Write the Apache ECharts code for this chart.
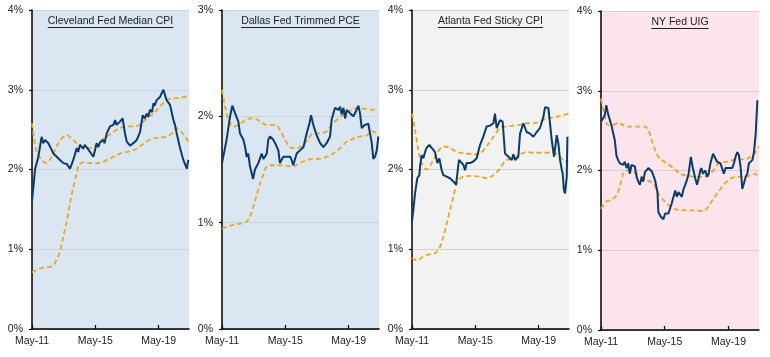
<!DOCTYPE html>
<html><head><meta charset="utf-8">
<script src="https://cdn.jsdelivr.net/npm/echarts@6/dist/echarts.min.js"></script>
<style>html,body{margin:0;padding:0;background:#fff}#c{width:770px;height:357px}</style>
</head><body><div id="c"></div>
<script>
// x = months since May-2011, y = percent
const xTickLabels = ['May-11', 'May-15', 'May-19'];
const panelTitles = ['Cleveland Fed Median CPI', 'Dallas Fed Trimmed PCE', 'Atlanta Fed Sticky CPI', 'NY Fed UIG'];
const yMaxes = [4, 3, 4, 4];

const clevMedian = [[0,1.60],[2.3,2.00],[4.8,2.16],[7.3,2.41],[8.5,2.33],[9.9,2.37],[12.4,2.33],[13.6,2.29],[16.2,2.20],[17.5,2.22],[18.7,2.16],[21.2,2.12],[22.5,2.14],[23.8,2.08],[26.3,2.07],[28.8,2.01],[31.3,2.12],[33.9,2.27],[35,2.22],[36.4,2.31],[38.9,2.26],[40,2.31],[41.4,2.29],[44,2.22],[46.5,2.16],[49,2.33],[50.2,2.28],[51.6,2.34],[54,2.37],[55,2.33],[56.6,2.45],[59.1,2.54],[61.7,2.56],[63,2.62],[64.2,2.56],[66.7,2.60],[68.7,2.64],[70.5,2.45],[71.8,2.35],[74.3,2.30],[76.8,2.33],[79.4,2.37],[81.9,2.47],[83.9,2.68],[85.5,2.64],[86.9,2.70],[88,2.66],[89.5,2.75],[91,2.72],[92,2.83],[93,2.80],[94.5,2.87],[97,2.91],[99.6,3.00],[102,2.87],[104.6,2.81],[107.2,2.62],[108.5,2.55],[109.7,2.45],[112.2,2.27],[114.7,2.12],[117.3,2.01],[118.5,2.12]];
const clevUpper = [[0,2.58],[3.5,2.22],[7.3,2.12],[11.1,2.08],[14.9,2.16],[18.7,2.29],[22.5,2.39],[26.3,2.43],[30.1,2.39],[33.9,2.33],[37.7,2.29],[41.4,2.27],[45.2,2.27],[49,2.31],[52.8,2.37],[56.6,2.41],[61.7,2.47],[66.7,2.52],[71.8,2.54],[76.8,2.54],[81.9,2.56],[86.9,2.64],[92,2.70],[97,2.79],[102,2.87],[107,2.89],[112,2.90],[118.5,2.92]];
const clevLower = [[0,0.71],[3.5,0.74],[8.6,0.77],[13.6,0.78],[16.2,0.80],[18.7,0.87],[21.2,0.97],[23.8,1.16],[26.3,1.35],[28.8,1.58],[31.3,1.78],[33.9,1.95],[35.6,2.06],[38.9,2.09],[44,2.08],[51.6,2.08],[56.6,2.12],[61.7,2.16],[66.7,2.20],[71.8,2.22],[76.8,2.24],[81.9,2.29],[86.9,2.35],[92,2.39],[97,2.40],[102,2.41],[105.9,2.45],[109.7,2.52],[113.5,2.47],[118.5,2.35]];

const dallasTrim = [[0,1.56],[3.5,1.78],[6.1,2.00],[7.8,2.10],[9.9,2.03],[12.4,1.95],[13.6,1.84],[16.2,1.78],[17.4,1.72],[18.7,1.62],[19.9,1.65],[21.2,1.53],[23.5,1.41],[25,1.50],[27.5,1.56],[30.1,1.65],[31.3,1.60],[32.6,1.62],[33.9,1.65],[35.1,1.78],[36.4,1.81],[38.9,1.78],[40.2,1.75],[42.7,1.68],[43.9,1.56],[46.5,1.62],[49,1.62],[51.6,1.62],[52.8,1.59],[54,1.54],[56.6,1.65],[59.1,1.68],[61.7,1.71],[64.2,1.84],[66.2,1.93],[67.5,2.01],[69.2,1.92],[71.8,1.82],[74.3,1.75],[76.8,1.71],[79.4,1.75],[81.9,1.81],[83.1,1.97],[85.7,2.08],[88.2,2.06],[89.5,2.09],[90.7,2.02],[92,2.08],[93.3,1.98],[94.5,2.06],[97,2.03],[99.6,2.00],[102,2.06],[103.4,2.10],[104.6,2.03],[105.9,1.89],[108.4,1.92],[110.9,1.93],[113.5,1.75],[114.7,1.60],[116,1.62],[117.3,1.68],[118.5,1.81]];
const dallasUpper = [[0,2.25],[2.3,2.09],[4.8,1.97],[8.6,1.90],[12.4,1.92],[16.2,1.95],[21.2,1.98],[25,1.98],[28.8,1.95],[33.9,1.92],[40.2,1.92],[44,1.87],[47.8,1.78],[51.6,1.71],[56.6,1.70],[61.7,1.73],[65.5,1.79],[69.2,1.84],[74.3,1.84],[79.4,1.86],[83.1,1.92],[88.2,1.98],[93.3,2.03],[98.3,2.06],[103.4,2.08],[108.4,2.07],[113.5,2.06],[117.3,2.08]];
const dallasLower = [[0,0.94],[3.5,0.96],[8.6,0.98],[13.6,0.99],[18.7,1.01],[21.2,1.06],[23.8,1.15],[26.3,1.26],[28.8,1.37],[31.3,1.45],[33.9,1.53],[37.7,1.54],[44,1.54],[51.6,1.53],[54,1.53],[59.1,1.56],[64.2,1.59],[69.2,1.60],[74.3,1.60],[79.4,1.62],[84.4,1.65],[89.5,1.70],[94.5,1.76],[99.6,1.79],[104.6,1.81],[109.7,1.82],[113.5,1.86],[116,1.85],[118.5,1.80]];

const atlSticky = [[0,1.35],[1,1.49],[2.3,1.70],[4,1.89],[5.6,1.93],[6.1,2.04],[7.3,2.18],[8.6,2.14],[9.9,2.22],[11.1,2.27],[13.1,2.31],[14.9,2.27],[17.4,2.22],[19.2,2.08],[20.7,2.14],[22.5,1.99],[23.8,1.93],[26.3,1.91],[28.8,1.89],[31.3,1.85],[33.4,1.81],[34.4,1.95],[35.6,2.12],[36.9,2.14],[38.9,2.06],[40.2,1.99],[41.4,2.08],[44,2.08],[46.5,2.10],[49,2.14],[51.6,2.31],[54,2.41],[56.6,2.54],[59.1,2.55],[61.7,2.58],[62.9,2.70],[64.2,2.52],[66.7,2.62],[68.7,2.60],[70.5,2.20],[73.1,2.16],[75.6,2.12],[76.8,2.19],[78.1,2.12],[80.6,2.16],[81.9,2.45],[84.4,2.58],[86.9,2.47],[89.5,2.45],[92,2.41],[94.5,2.47],[97,2.52],[99.6,2.66],[100.8,2.78],[103.4,2.77],[104.6,2.77],[105.9,2.37],[107.7,2.16],[109.7,2.43],[110.9,2.33],[112.2,2.12],[113.5,2.00],[114.2,1.95],[115.2,1.74],[116,1.70],[117.3,1.91],[117.8,2.41]];
const atlUpper = [[0,2.70],[2.3,2.50],[4.8,2.24],[7.3,2.08],[11.1,2.00],[14.9,2.08],[18.7,2.20],[23.8,2.29],[28.8,2.27],[33.9,2.22],[41.4,2.20],[46.5,2.19],[51.6,2.20],[56.6,2.29],[61.7,2.41],[66.7,2.52],[71.8,2.54],[76.8,2.55],[81.9,2.56],[86.9,2.58],[92,2.58],[97,2.60],[102,2.64],[107.2,2.65],[112.2,2.67],[118.5,2.70]];
const atlLower = [[0,0.89],[3.5,0.86],[8.6,0.91],[13.6,0.94],[17.4,0.95],[20.7,1.01],[23.8,1.16],[26.3,1.32],[28.8,1.49],[31.3,1.66],[35.1,1.87],[38.9,1.91],[44,1.92],[51.6,1.91],[56.6,1.89],[61.7,1.93],[65.5,1.99],[66.7,2.01],[69.2,2.08],[71.8,2.12],[76.8,2.14],[81.9,2.19],[86.9,2.22],[92,2.21],[97,2.21],[102,2.21],[107.2,2.21],[110.9,2.18],[114.7,2.12],[118.5,2.09]];

const nyUig = [[0,2.61],[1.5,2.63],[2.8,2.69],[4,2.82],[5.3,2.71],[6.6,2.69],[7.8,2.57],[9.1,2.55],[10.4,2.38],[11.6,2.19],[12.9,2.13],[14.2,2.09],[15.4,2.11],[16.7,2.07],[17.9,2.11],[19.2,2.03],[20.5,2.09],[21.7,1.96],[23,2.07],[24.3,2.05],[25.5,2.05],[26.8,1.92],[28.1,1.86],[29.3,1.82],[30.6,1.92],[31.8,1.86],[33.1,1.98],[34.4,2.00],[35.6,2.03],[36.9,2.03],[38.2,1.99],[39.4,1.94],[40.7,1.88],[42.5,1.73],[43.2,1.48],[45,1.42],[47,1.39],[48.3,1.46],[49.5,1.44],[50.8,1.46],[52.1,1.44],[53.3,1.59],[54.6,1.67],[55.9,1.75],[57.1,1.67],[58.4,1.73],[59.6,1.71],[60.9,1.67],[62.2,1.77],[63.4,1.82],[64.7,1.88],[66,1.96],[67.7,2.17],[69.2,2.03],[71,1.90],[72.3,1.82],[73.5,1.90],[74.8,2.00],[75.6,2.03],[76.8,1.96],[78.6,2.00],[79.9,1.92],[81.1,1.96],[82.4,2.09],[84.4,2.21],[85.7,2.23],[87.4,2.11],[88.7,2.13],[90,2.09],[91.2,2.07],[92.5,1.96],[93.8,2.03],[95,2.05],[96.3,2.03],[97.5,2.05],[98.8,2.03],[100.1,2.09],[101.3,2.17],[102.6,2.23],[103.9,2.19],[105.1,2.05],[106.4,1.77],[107.7,1.84],[108.9,1.92],[110.2,1.96],[111.4,2.09],[112.7,2.07],[114,2.13],[115.2,2.23],[116.5,2.46],[117.8,2.88]];
const nyUpper = [[0,2.90],[2.8,2.69],[5.3,2.57],[9.1,2.57],[12.9,2.60],[16.7,2.57],[20.5,2.55],[26.8,2.55],[33.1,2.55],[35.6,2.51],[38.2,2.38],[41.9,2.21],[44.5,2.15],[49.5,2.09],[54.6,2.03],[59.6,1.96],[63.4,1.94],[67.2,1.93],[72.3,1.92],[77.3,1.92],[82.4,1.96],[86.2,2.04],[88.7,2.09],[95,2.11],[102.6,2.14],[107.7,2.14],[112.7,2.17],[116.5,2.23],[118.5,2.30]];
const nyLower = [[0,1.52],[4,1.61],[7.8,1.63],[11.6,1.69],[14.2,1.80],[16.7,1.96],[19.2,2.00],[21.7,2.00],[26.8,1.96],[30.6,1.92],[34.4,1.88],[39.4,1.84],[43.2,1.71],[47,1.63],[52.1,1.55],[57.1,1.51],[64.7,1.50],[72.3,1.50],[77.3,1.49],[82.4,1.59],[87.4,1.71],[92.5,1.82],[97.5,1.90],[102.6,1.92],[107.7,1.92],[112.7,1.94],[116.5,1.96],[118.5,1.90]];

const mainSeries = [clevMedian, dallasTrim, atlSticky, nyUig];
const upperSeries = [clevUpper, dallasUpper, atlUpper, nyUpper];
const lowerSeries = [clevLower, dallasLower, atlLower, nyLower];

// layout & styles
const grids = [
  {left: 32, top: 10, width: 157, height: 319},
  {left: 222, top: 10, width: 157, height: 319},
  {left: 412, top: 10, width: 157, height: 319},
  {left: 601, top: 11, width: 158, height: 319}
];
const bgColors = ['#dae6f2', '#dae6f2', '#f2f2f2', '#fce4ec'];
const FONT = '"Liberation Sans", Arial, sans-serif';
const blue = '#0c3b6b';
const gold = '#e6a829';

const ctx = document.createElement('canvas').getContext('2d');
ctx.font = '10.5px ' + FONT;

const option = {
  animation: false,
  grid: grids.map((g, i) => Object.assign({show: true, backgroundColor: bgColors[i], borderWidth: 0}, g)),
  xAxis: grids.map((g, i) => ({
    type: 'value', gridIndex: i, min: 0, max: 119, interval: 48,
    axisLine: {show: true, lineStyle: {color: '#000', width: 1.5}},
    axisTick: {show: true, inside: true, length: 4, lineStyle: {color: '#000', width: 1.2}},
    splitLine: {show: false},
    axisLabel: {showMaxLabel: false, color: '#222', fontSize: 10.5, fontFamily: FONT, margin: 7,
      formatter: v => xTickLabels[Math.round(v / 48)] || ''}
  })),
  yAxis: grids.map((g, i) => ({
    type: 'value', gridIndex: i, min: 0, max: yMaxes[i], interval: 1,
    axisLine: {show: true, lineStyle: {color: '#000', width: 1.5}},
    axisTick: {show: true, length: 3, lineStyle: {color: '#000', width: 1.2}},
    splitLine: {show: true, lineStyle: {color: '#d2d2d2', width: 1}},
    axisLabel: {color: '#222', fontSize: 10.5, fontFamily: FONT, margin: 9, formatter: v => v + '%'}
  })),
  series: [],
  graphic: []
};

grids.forEach((g, i) => {
  option.series.push({type: 'line', xAxisIndex: i, yAxisIndex: i, data: upperSeries[i], symbol: 'none', smooth: 0.3,
    lineStyle: {color: gold, width: 1.8, type: [5, 3]}, z: 2});
  option.series.push({type: 'line', xAxisIndex: i, yAxisIndex: i, data: lowerSeries[i], symbol: 'none', smooth: 0.3,
    lineStyle: {color: gold, width: 1.8, type: [5, 3]}, z: 2});
  option.series.push({type: 'line', xAxisIndex: i, yAxisIndex: i, data: mainSeries[i], symbol: 'none',
    lineStyle: {color: blue, width: 2}, z: 3});
  const cx = g.left + g.width / 2;
  const w = ctx.measureText(panelTitles[i]).width;
  const ty = g.top + 11;
  option.graphic.push({type: 'text', x: cx, y: ty, z: 10,
    style: {text: panelTitles[i], fill: '#222', font: '10.5px ' + FONT, align: 'center', verticalAlign: 'middle'}});
  option.graphic.push({type: 'line', z: 10,
    shape: {x1: cx - w / 2, y1: ty + 6.5, x2: cx + w / 2, y2: ty + 6.5},
    style: {stroke: '#222', lineWidth: 1}});
});

const chart = echarts.init(document.getElementById('c'), null, {renderer: 'canvas'});
chart.setOption(option);
</script></body></html>
